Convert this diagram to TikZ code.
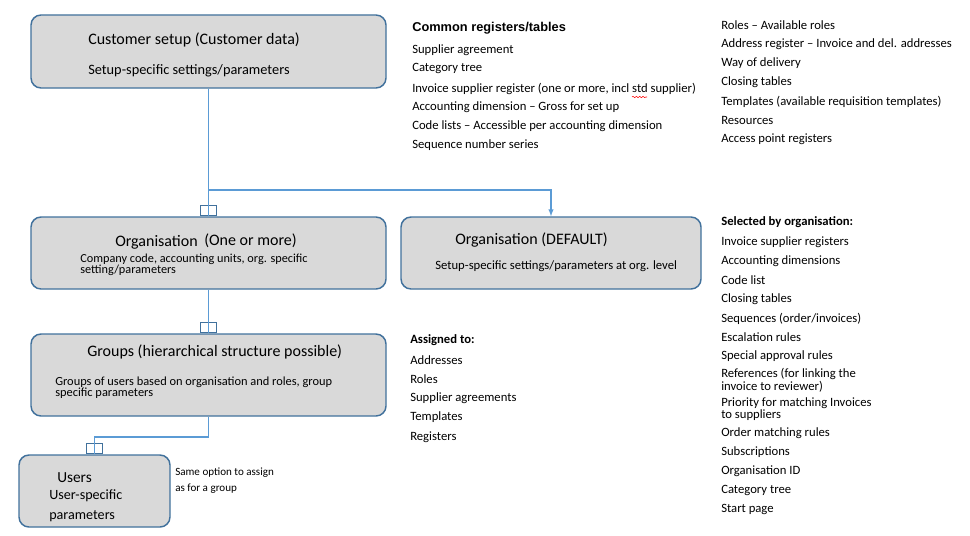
\documentclass[tikz,border=0pt]{standalone}
\usepackage{fontspec}
\setmainfont{Carlito}
\newfontfamily\arialf{Liberation Sans}
\usepackage{tikz}
\usetikzlibrary{arrows,positioning,decorations.pathmorphing}

\definecolor{boxfill}{HTML}{D9D9D9}
\definecolor{boxline}{HTML}{41719C}
\definecolor{connline}{HTML}{5B9BD5}
\definecolor{markline}{HTML}{41719C}

\tikzset{
  box/.style={draw=boxline, fill=boxfill, rounded corners=7.5pt, line width=1.1pt, inner sep=0pt},
  onemark/.style={draw=markline, line width=0.9pt, minimum width=12pt, minimum height=7.5pt, inner sep=0pt, anchor=south},
  conn/.style={draw=connline, line width=0.8pt},
  txt/.style={anchor=west, inner sep=0pt, yshift=-1.1pt},
  lst/.style={txt, font=\fontsize{9.5}{11}\selectfont},
  ttl/.style={txt, font=\fontsize{12}{14}\selectfont},
  sub/.style={txt, font=\fontsize{10.75}{13}\selectfont}
}

\begin{document}
\begin{tikzpicture}[x=0.75pt, y=-0.75pt]
      \useasboundingbox (0, 0) rectangle (970, 535);
      % boxes
      \node[box, minimum width=266.25pt, minimum height=54.75pt] (cust) at (208.5, 51.5) {};
      \node[box, minimum width=266.25pt, minimum height=54pt] (org) at (208.5, 253) {};
      \node[box, minimum width=225pt, minimum height=54pt] (orgdef) at (551, 253) {};
      \node[box, minimum width=266.25pt, minimum height=61.5pt] (grp) at (208.5, 375) {};
      \node[box, minimum width=113.25pt, minimum height=54pt] (usr) at (94.5, 491) {};
      % box texts
      \node[ttl] (custttl) at (88, 38) {Customer setup (Customer data)};
      \node[sub] (custsub) at (88, 69) {Setup-specific settings/parameters};
      \node[ttl] (orgttl) at (115, 241) {Organisation};
      \node[ttl] (orgnum) at (204, 239) {(One or more)};
      \node[txt, align=left, font=\fontsize{9.2}{8.3}\selectfont] (orgsub) at (80, 263.5) {Company code, accounting units, org. specific\\setting/parameters};
      \node[ttl] (defttl) at (455, 239) {Organisation (DEFAULT)};
      \node[txt, font=\fontsize{9.5}{11}\selectfont] (defsub) at (435, 265) {Setup-specific settings/parameters at org. level};
      \node[ttl] (grpttl) at (87, 350) {Groups (hierarchical structure possible)};
      \node[txt, align=left, font=\fontsize{9.3}{8.3}\selectfont] (grpsub) at (55, 386.5) {Groups of users based on organisation and roles, group\\specific parameters};
      \node[txt, font=\fontsize{11.5}{13}\selectfont] (usrttl) at (57, 476) {Users};
      \node[txt, font=\fontsize{10.6}{12}\selectfont] (usrsub1) at (49, 494) {User-specific};
      \node[txt, font=\fontsize{10.6}{12}\selectfont] (usrsub2) at (49, 515) {parameters};
      \node[txt, font=\fontsize{8.3}{10}\selectfont] (usrnote1) at (175, 471) {Same option to assign};
      \node[txt, font=\fontsize{8.3}{10}\selectfont] (usrnote2) at (175, 487) {as for a group};
      % connectors
      \node[onemark] (mark1) at (org.north) {};
      \node[onemark] (mark2) at (grp.north) {};
      \node[onemark] (mark3) at (usr.north) {};
      \coordinate (split) at (208.5, 190);
      \coordinate (gbend) at (208.5, 437);
      \draw[conn] (cust.south) -- (org.north);
      \draw[conn, -latex] (split) -| (orgdef.north);
      \draw[conn] (org.south) -- (grp.north);
      \draw[conn] (grp.south) -- (gbend) -| (usr.north);
      % common registers
      \node[txt, font=\arialf\bfseries\fontsize{9.6}{11}\selectfont] (comhd) at (412, 27) {Common registers/tables};
      \node[lst] (com1) at (412, 48.5) {Supplier agreement};
      \node[lst] (com2) at (412, 67.5) {Category tree};
      \node[lst] (com3) at (412, 87) {Invoice supplier register (one or more, incl std supplier)};
      \node[lst] (com4) at (412, 106) {Accounting dimension -- Gross for set up};
      \node[lst] (com5) at (412, 125) {Code lists -- Accessible per accounting dimension};
      \node[lst] (com6) at (412, 144) {Sequence number series};
      \draw[red, line width=0.4pt, decorate, decoration={snake, amplitude=0.5pt, segment length=2.5pt}] (632, 97) -- (647, 97);
      \node[lst] (more1) at (721, 23.5) {Roles -- Available roles};
      \node[lst] (more2) at (721, 42.5) {Address register -- Invoice and del. addresses};
      \node[lst] (more3) at (721, 61.5) {Way of delivery};
      \node[lst] (more4) at (721, 80.5) {Closing tables};
      \node[lst] (more5) at (721, 100) {Templates (available requisition templates)};
      \node[lst] (more6) at (721, 119) {Resources};
      \node[lst] (more7) at (721, 138) {Access point registers};
      % assigned to groups
      \node[lst, font=\bfseries\fontsize{9.5}{11}\selectfont] (asghd) at (410, 339) {Assigned to:};
      \node[lst] (asg1) at (410, 358.5) {Addresses};
      \node[lst] (asg2) at (410, 377.5) {Roles};
      \node[lst] (asg3) at (410, 397) {Supplier agreements};
      \node[lst] (asg4) at (410, 416) {Templates};
      \node[lst] (asg5) at (410, 435.5) {Registers};
      % selected by organisation
      \node[lst, font=\bfseries\fontsize{9.5}{11}\selectfont] (selhd) at (721, 220.5) {Selected by organisation:};
      \node[lst] (sel1) at (721, 240.5) {Invoice supplier registers};
      \node[lst] (sel2) at (721, 259.5) {Accounting dimensions};
      \node[lst] (sel3) at (721, 279) {Code list};
      \node[lst] (sel4) at (721, 298) {Closing tables};
      \node[lst] (sel5) at (721, 317) {Sequences (order/invoices)};
      \node[lst] (sel6) at (721, 336) {Escalation rules};
      \node[lst] (sel7) at (721, 355) {Special approval rules};
      \node[lst, align=left, font=\fontsize{9.5}{7.2}\selectfont] (sel8) at (721, 378.5) {References (for linking the\\invoice to reviewer)};
      \node[lst, align=left, font=\fontsize{9.5}{7.2}\selectfont] (sel9) at (721, 407.5) {Priority for matching Invoices\\to suppliers};
      \node[lst] (sel10) at (721, 432) {Order matching rules};
      \node[lst] (sel11) at (721, 451) {Subscriptions};
      \node[lst] (sel12) at (721, 470) {Organisation ID};
      \node[lst] (sel13) at (721, 489) {Category tree};
      \node[lst] (sel14) at (721, 508.5) {Start page};
    \end{tikzpicture}
\end{document}
